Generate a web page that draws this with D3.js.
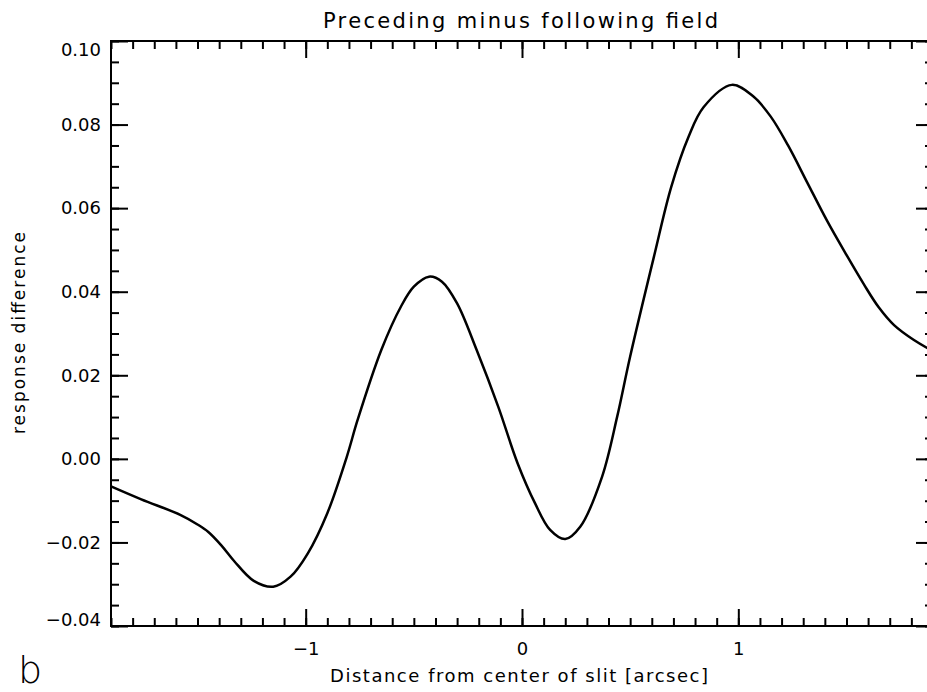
<!DOCTYPE html>
<html>
<head>
<meta charset="utf-8">
<script src="https://cdn.jsdelivr.net/npm/d3@7/dist/d3.min.js"></script>
<style>
  html, body { margin: 0; padding: 0; background: #fff; }
  svg { display: block; }
  text { font-family: "DejaVu Sans", sans-serif; fill: #000; }
</style>
</head>
<body>
<svg id="chart" width="927" height="692"></svg>
<script>
// ---- data ----
const distance = [-1.90, -1.76, -1.58, -1.50, -1.45, -1.39, -1.33, -1.24, -1.15, -1.07,
                  -0.99, -0.90, -0.81, -0.76, -0.65, -0.56, -0.50, -0.43, -0.37, -0.30,
                  -0.21, -0.11, -0.02, 0.06, 0.13, 0.20, 0.27, 0.37, 0.44, 0.50,
                  0.61, 0.69, 0.77, 0.84, 0.97, 1.07, 1.15, 1.23, 1.32, 1.41,
                  1.50, 1.58, 1.65, 1.72, 1.81, 1.90];
const response = [-0.0066, -0.0097, -0.0134, -0.0157, -0.0175, -0.0207, -0.0245, -0.0292, -0.0306, -0.0282,
                  -0.0226, -0.0130, 0.0005, 0.0093, 0.0261, 0.0364, 0.0412, 0.0436, 0.0424, 0.0372,
                  0.0261, 0.0125, -0.0011, -0.0106, -0.0170, -0.0192, -0.0162, -0.0043, 0.0101, 0.0245,
                  0.0484, 0.0651, 0.0771, 0.0842, 0.0895, 0.0867, 0.0819, 0.0750, 0.0660, 0.0570,
                  0.0488, 0.0418, 0.0362, 0.0320, 0.0285, 0.0258];
const xTicks = [-1, 0, 1];
const xTickLabels = ["\u22121", "0", "1"];
const yTicks = [-0.04, -0.02, 0.00, 0.02, 0.04, 0.06, 0.08, 0.10];
const yTickLabels = ["\u22120.04", "\u22120.02", "0.00", "0.02", "0.04", "0.06", "0.08", "0.10"];
const titleText = "Preceding minus following field";
const xLabelText = "Distance from center of slit [arcsec]";
const yLabelText = "response difference";
const panelLetter = "b";

// ---- layout ----
const pLeft = 111, pRight = 933, pTop = 41, pBottom = 626;
const svg = d3.select("#chart");

const x = d3.scaleLinear().domain([-1.9, 1.9]).range([pLeft, pRight]);
const y = d3.scaleLinear().domain([-0.04, 0.10]).range([pBottom, pTop]);

const xMinor = d3.range(-19, 20).map(d => d / 10);
const yMinor = d3.range(-40, 101, 5).map(d => d / 1000);

function styleAxis(g) {
  g.select(".domain").remove();
  g.selectAll(".tick line").attr("stroke", "#000").attr("stroke-width", 2);
  g.selectAll(".tick text").attr("font-size", 18).attr("fill", "#000");
}

// minor ticks
[[d3.axisBottom(x), pBottom], [d3.axisTop(x), pTop]].forEach(([ax, yy]) => {
  svg.append("g").attr("transform", `translate(0,${yy})`)
    .call(ax.tickValues(xMinor).tickSize(-8).tickFormat(""))
    .call(styleAxis);
});
[[d3.axisLeft(y), pLeft], [d3.axisRight(y), pRight]].forEach(([ax, xx]) => {
  svg.append("g").attr("transform", `translate(${xx},0)`)
    .call(ax.tickValues(yMinor).tickSize(-8).tickFormat(""))
    .call(styleAxis);
});

// major ticks
svg.append("g").attr("transform", `translate(0,${pBottom})`)
  .call(d3.axisBottom(x).tickValues(xTicks).tickSize(-17).tickPadding(16)
    .tickFormat((d, i) => xTickLabels[i]))
  .call(styleAxis);
svg.append("g").attr("transform", `translate(0,${pTop})`)
  .call(d3.axisTop(x).tickValues(xTicks).tickSize(-17).tickFormat(""))
  .call(styleAxis);
const yAxisG = svg.append("g").attr("transform", `translate(${pLeft},0)`)
  .call(d3.axisLeft(y).tickValues(yTicks).tickSize(-17).tickPadding(10)
    .tickFormat((d, i) => yTickLabels[i]))
  .call(styleAxis);
// extreme labels are kept inside the axis range, as in the reference
yAxisG.selectAll(".tick text")
  .attr("dy", d => d === 0.10 ? "14px" : (d === -0.04 ? "-1px" : "0.32em"));
svg.append("g").attr("transform", `translate(${pRight},0)`)
  .call(d3.axisRight(y).tickValues(yTicks).tickSize(-17).tickFormat(""))
  .call(styleAxis);

// frame
svg.append("rect")
  .attr("x", pLeft).attr("y", pTop)
  .attr("width", pRight - pLeft).attr("height", pBottom - pTop)
  .attr("fill", "none").attr("stroke", "#000").attr("stroke-width", 2);

// curve
const pts = distance.map((d, i) => [d, response[i]]);
svg.append("path")
  .datum(pts)
  .attr("fill", "none")
  .attr("stroke", "#000")
  .attr("stroke-width", 2.5)
  .attr("stroke-linejoin", "round")
  .attr("d", d3.line().x(d => x(d[0])).y(d => y(d[1])).curve(d3.curveCatmullRom.alpha(0.5)));

// title & labels
svg.append("text")
  .attr("x", 323).attr("y", 28)
  .attr("font-size", 21)
  .attr("textLength", 395).attr("lengthAdjust", "spacing")
  .text(titleText);

svg.append("text")
  .attr("x", 330).attr("y", 682)
  .attr("font-size", 18)
  .attr("textLength", 378).attr("lengthAdjust", "spacing")
  .text(xLabelText);

svg.append("text")
  .attr("transform", "translate(25,434) rotate(-90)")
  .attr("x", 0).attr("y", 0)
  .attr("font-size", 17)
  .attr("textLength", 202).attr("lengthAdjust", "spacing")
  .text(yLabelText);

svg.append("text")
  .attr("x", 18).attr("y", 683)
  .attr("font-size", 38)
  .attr("font-weight", 300)
  .text(panelLetter);
</script>
</body>
</html>
